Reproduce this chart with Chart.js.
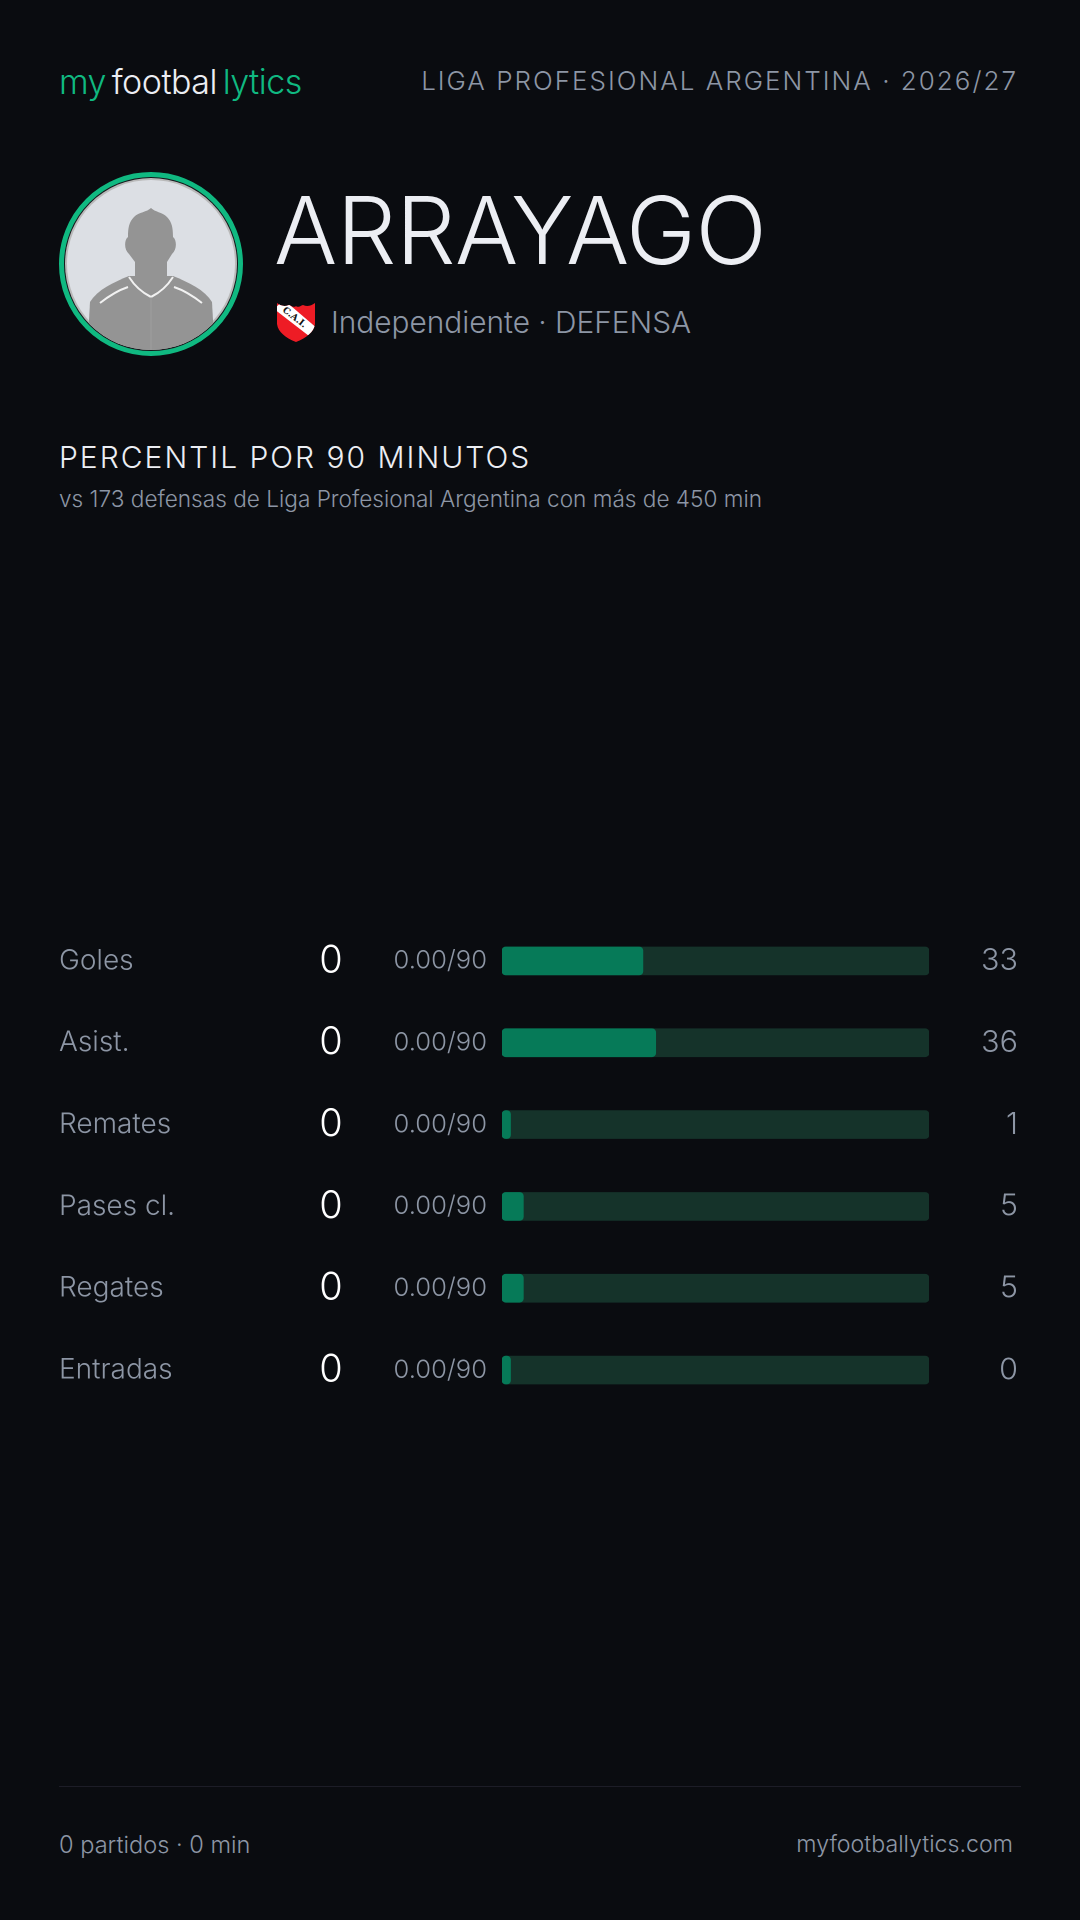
<!DOCTYPE html>
<html lang="es">
<head>
<meta charset="utf-8">
<title>Arrayago</title>
<script src="https://cdn.jsdelivr.net/npm/chart.js@4"></script>
<style>
  html, body { margin: 0; padding: 0; background: #0a0c10; }
  body { width: 1080px; height: 1920px; position: relative; overflow: hidden; font-family: Inter, sans-serif; font-weight: 300; color: #8d96a5; }
  .t { position: absolute; white-space: nowrap; line-height: 1; }
  .green { color: #10b981; }
  .white { color: #eceef3; }
  #chartBox { position: absolute; left: 0; top: 920px; width: 1080px; height: 491px; }
  #rule { position: absolute; left: 59px; top: 1786px; width: 962px; height: 1px; background: #1d1d27; }
  svg { position: absolute; }
</style>
</head>
<body>
  <div class="t" style="left:59px;top:65px;font-size:34px;letter-spacing:-0.5px"><span class="green">my</span><span class="white">&#8201;footbal</span><span class="green">&#8201;lytics</span></div>
  <div class="t" style="right:62px;top:68px;font-size:26px;letter-spacing:2px">LIGA PROFESIONAL ARGENTINA · 2026/27</div>

  <svg style="left:59px;top:172px" width="184" height="184" viewBox="0 0 184 184">
    <defs><clipPath id="inner"><circle cx="92" cy="92" r="86"/></clipPath></defs>
    <circle cx="92" cy="92" r="89.5" fill="#16181c" stroke="#10b981" stroke-width="5"/>
    <circle cx="92" cy="92" r="86" fill="#b9b9b9"/>
    <circle cx="92" cy="92" r="84" fill="#dcdfe4"/>
    <g clip-path="url(#inner)">
      <path d="M92 36 C96 40 103 40 108 45 C113 50 114 56 114 65 C118 68 118 78 113 82 L108 90 L108 106 L76 106 L76 90 L70 82 C65 78 65 68 69 65 C69 56 70 50 75 45 C80 40 88 40 92 36 Z" fill="#949494"/>
      <path d="M70 104 C55 110 38 118 31 130 L28 184 L156 184 L153 130 C146 118 129 110 114 104 Z" fill="#949494"/>
      <path d="M70 105 C75 113 84 121 92 125 C100 121 109 113 114 105" fill="none" stroke="#f1f1f1" stroke-width="2"/>
      <path d="M41 131 C50 124 60 118 69 115 M143 131 C134 124 124 118 115 115" fill="none" stroke="#f1f1f1" stroke-width="2"/>
      <path d="M92 125 V184" stroke="#9e9e9e" stroke-width="1"/>
    </g>
  </svg>

  <div class="t white" style="left:274px;top:183px;font-size:94px;letter-spacing:-0.5px">ARRAYAGO</div>

  <svg style="left:276px;top:302px" width="40" height="41" viewBox="0 0 40 41">
    <defs><clipPath id="shield"><path d="M1 1 C5 4 9 5 13 3 C16 4 18 6 20 4 C22 6 24 4 27 3 C31 5 35 4 39 1 L39 22 C38 30 30 36 20 40 C10 36 2 30 1 22 Z"/></clipPath></defs>
    <g clip-path="url(#shield)">
      <rect width="40" height="41" fill="#ee1c25"/>
      <path d="M-2 7 L8 -2 L42 27 L33 34 Z" fill="#ffffff"/>
      <text x="0" y="0" transform="translate(6 9) rotate(38)" font-family="'DejaVu Serif', serif" font-size="9" font-weight="700" fill="#111">C.A.I.</text>
    </g>
  </svg>
  <div class="t" style="left:331px;top:308px;font-size:29.8px">Independiente · DEFENSA</div>

  <div class="t white" style="left:59px;top:442px;font-size:30px;letter-spacing:2px">PERCENTIL POR 90 MINUTOS</div>
  <div class="t" style="left:59px;top:488px;font-size:22.6px">vs 173 defensas de Liga Profesional Argentina con más de 450 min</div>

  <div id="chartBox"><canvas id="pctChart" width="1080" height="491"></canvas></div>

  <div id="rule"></div>
  <div class="t" style="left:59px;top:1833px;font-size:23.6px">0 partidos · 0 min</div>
  <div class="t" style="right:67px;top:1833px;font-size:23.2px">myfootballytics.com</div>

<script>
const metrics = ['Goles', 'Asist.', 'Remates', 'Pases cl.', 'Regates', 'Entradas'];
const totals = ['0', '0', '0', '0', '0', '0'];
const per90 = ['0.00/90', '0.00/90', '0.00/90', '0.00/90', '0.00/90', '0.00/90'];
const percentiles = [33, 36, 1, 5, 5, 0];
const track = [100, 100, 100, 100, 100, 100];
const minBar = 2; // the card keeps a stub visible for very low percentiles

const grey = '#8d96a5';

// extra columns next to the bars
const rowText = {
    id: 'rowText',
    afterDatasetsDraw(chart) {
        const ctx = chart.ctx;
        const y = chart.scales.y;
        const x = chart.scales.x;
        ctx.save();
        ctx.textBaseline = 'middle';
        metrics.forEach(function(m, i) {
            const py = y.getPixelForValue(i);
            ctx.textAlign = 'center';
            ctx.fillStyle = '#ffffff';
            ctx.font = '300 38px Inter';
            ctx.fillText(totals[i], 331, py);
            ctx.textAlign = 'right';
            ctx.fillStyle = grey;
            ctx.font = '300 25.6px Inter';
            ctx.fillText(per90[i], x.getPixelForValue(0) - 15, py);
            ctx.font = '300 30.5px Inter';
            ctx.fillText(percentiles[i], 1018, py);
        });
        ctx.restore();
    }
};

new Chart(document.getElementById('pctChart').getContext('2d'), {
    type: 'bar',
    data: {
        labels: metrics,
        datasets: [
            {
                label: 'Percentil',
                data: percentiles.map(function(p) { return Math.max(p, minBar); }),
                backgroundColor: '#067a58',
                order: 1
            },
            {
                label: 'Total',
                data: track,
                backgroundColor: '#15332a',
                order: 2
            }
        ]
    },
    options: {
        indexAxis: 'y',
        responsive: false,
        animation: false,
        devicePixelRatio: 2,
        layout: { padding: { left: 59, right: 151, top: 0, bottom: 0 } },
        datasets: {
            bar: { grouped: false, barThickness: 28, borderRadius: 4, borderSkipped: false }
        },
        plugins: { legend: { display: false }, tooltip: { enabled: false } },
        scales: {
            x: { display: false, min: 0, max: 100 },
            y: {
                grid: { display: false },
                border: { display: false },
                afterFit: function(scale) {
                    scale.width = 443;
                    scale.paddingTop = 0;
                    scale.paddingBottom = 0;
                },
                ticks: {
                    crossAlign: 'far',
                    padding: 0,
                    color: grey,
                    font: { family: 'Inter', size: 28, weight: '300' }
                }
            }
        }
    },
    plugins: [rowText]
});
</script>
</body>
</html>
